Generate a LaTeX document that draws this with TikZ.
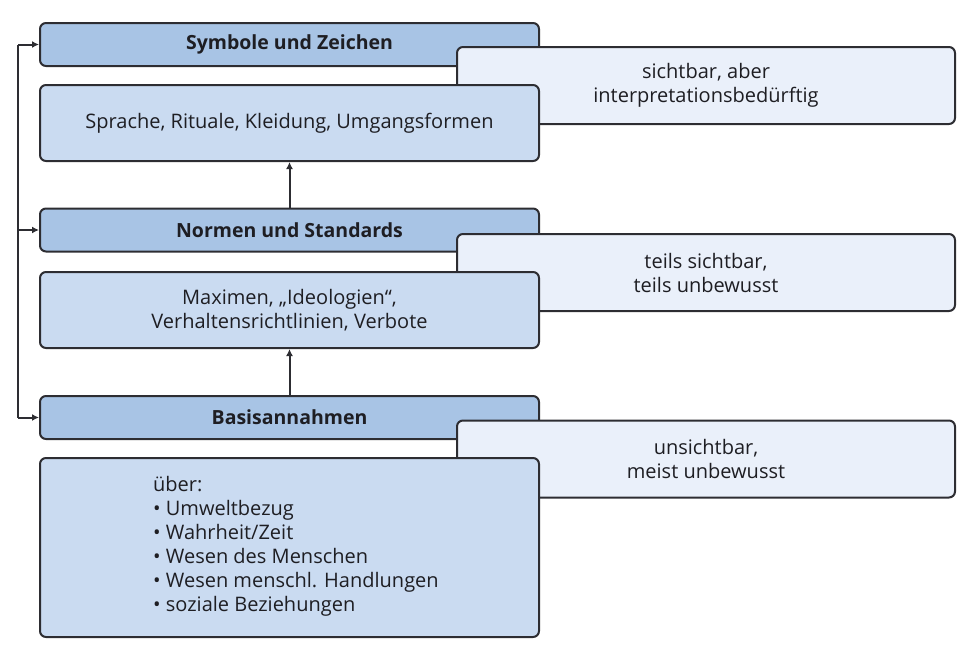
\documentclass[tikz,border=0pt]{standalone}
\usepackage{fontspec}
\setmainfont{Open Sans}
\usetikzlibrary{arrows.meta}
\definecolor{hdrfill}{RGB}{168,196,229}
\definecolor{bodyfill}{RGB}{202,219,241}
\definecolor{sidefill}{RGB}{234,240,250}
\definecolor{edge}{RGB}{45,45,50}
\definecolor{txt}{RGB}{30,30,35}
\tikzset{
  x=1pt, y=1pt,
  boxbase/.style={draw=edge, line width=2pt, rounded corners=6pt, text=txt, inner sep=0pt, font=\fontsize{20}{24}\selectfont},
  hdr/.style={boxbase, fill=hdrfill, minimum width=499pt, minimum height=43pt, font=\fontsize{19.5}{24}\selectfont\bfseries},
  bodybox/.style={boxbase, fill=bodyfill, minimum width=499pt, align=center},
  sidebox/.style={boxbase, fill=sidefill, minimum width=498pt, minimum height=77pt, align=center},
  arr/.style={draw=edge, line width=2pt, -{Latex[length=7pt,width=7pt]}},
  ln/.style={draw=edge, line width=2pt}
}
\begin{document}
\begin{tikzpicture}
\useasboundingbox (0,0) rectangle (970,-659);
% level 1
\node[hdr] (h1) at (289.5,-44.5) {Symbole und Zeichen};
\node[sidebox] (s1) at (706,-85.5) {sichtbar, aber\\interpretationsbedürftig};
\node[bodybox, minimum height=76pt] (b1) at (289.5,-123) {Sprache, Rituale, Kleidung, Umgangsformen};
% level 2
\node[hdr] (h2) at (289.5,-230) {Normen und Standards};
\node[sidebox] (s2) at (706,-272.5) {teils sichtbar,\\teils unbewusst};
\node[bodybox, minimum height=76pt] (b2) at (289.5,-310) {Maximen, „Ideologien“,\\Verhaltensrichtlinien, Verbote};
% level 3
\node[hdr] (h3) at (289.5,-417.5) {Basisannahmen};
\node[sidebox] (s3) at (706,-459) {unsichtbar,\\meist unbewusst};
\node[bodybox, minimum height=179pt] (b3) at (289.5,-547.5) {};
\node[align=left, text=txt, inner sep=0pt, font=\fontsize{20}{24}\selectfont, anchor=west] (t3) at (153,-546)
  {über:\\• Umweltbezug\\• Wahrheit/Zeit\\• Wesen des Menschen\\• Wesen menschl. Handlungen\\• soziale Beziehungen};
% connectors
\draw[arr] (h2.north) -- (b1.south);
\draw[arr] (h3.north) -- (b2.south);
\coordinate (L1) at (18,-44.5);
\coordinate (L2) at (18,-230);
\coordinate (L3) at (18,-417.5);
\draw[ln] (L3) -- (L1);
\draw[arr] (L1) -- (h1.west);
\draw[arr] (L2) -- (h2.west);
\draw[arr] (L3) -- (h3.west);
\end{tikzpicture}
\end{document}
